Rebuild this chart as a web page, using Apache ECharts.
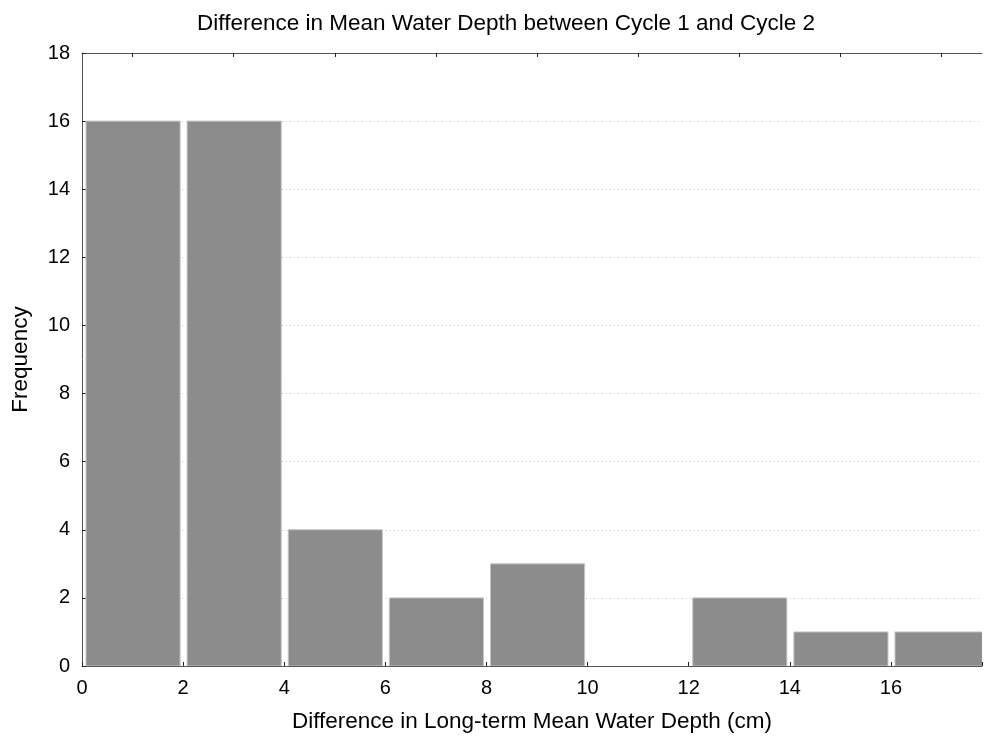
<!DOCTYPE html>
<html>
<head>
<meta charset="utf-8">
<script src="https://cdn.jsdelivr.net/npm/echarts@6/dist/echarts.min.js"></script>
<style>
  html, body { margin: 0; padding: 0; background: #fff; }
  #chart { width: 985px; height: 741px; }
</style>
</head>
<body>
<div id="chart"></div>
<script>
// Histogram bins (cm) and their counts
const binStarts = [0, 2, 4, 6, 8, 10, 12, 14, 16];
const binEnds   = [2, 4, 6, 8, 10, 12, 14, 16, 18];
const counts    = [16, 16, 4, 2, 3, 0, 2, 1, 1];
const yTicks    = [0, 2, 4, 6, 8, 10, 12, 14, 16, 18];
const binCenters = [1, 3, 5, 7, 9, 11, 13, 15, 17];

const data = binStarts.map((s, i) => [s, binEnds[i], counts[i]]);

const font = 'Liberation Sans, Arial, sans-serif';
const chart = echarts.init(document.getElementById('chart'), null, { renderer: 'canvas' });

chart.setOption({
  animation: false,
  title: {
    text: 'Difference in Mean Water Depth between Cycle 1 and Cycle 2',
    left: 501, top: 7, textAlign: 'center',
    textStyle: { fontFamily: font, fontSize: 22.5, fontWeight: 'normal', color: '#000' }
  },
  grid: { left: 82, top: 53, right: 0, bottom: 75, containLabel: false },
  xAxis: [{
    type: 'value', min: 0, max: 17.8, interval: 2,
    name: 'Difference in Long-term Mean Water Depth (cm)',
    nameLocation: 'middle', nameGap: 44,
    nameTextStyle: { fontFamily: font, fontSize: 22.5, color: '#000' },
    axisLine: { show: true, lineStyle: { color: '#555', width: 1 } },
    axisTick: { show: true, inside: true, length: 4, lineStyle: { color: '#222' } },
    axisLabel: { fontFamily: font, fontSize: 20, color: '#000', margin: 12,
      formatter: v => (v > 17 ? '' : v) },
    splitLine: { show: false }
  }, {
    type: 'value', position: 'top', min: 0, max: 17.8,
    axisLine: { show: true, lineStyle: { color: '#555', width: 1 } },
    axisTick: { show: true, inside: true, length: 4, customValues: binCenters, lineStyle: { color: '#222' } },
    axisLabel: { show: false },
    splitLine: { show: false }
  }],
  yAxis: {
    type: 'value', min: 0, max: 18, interval: 2,
    name: 'Frequency', nameLocation: 'middle', nameGap: 50,
    nameTextStyle: { fontFamily: font, fontSize: 22.5, color: '#000' },
    axisLine: { show: true, lineStyle: { color: '#555', width: 1 } },
    axisTick: { show: true, inside: true, length: 4, lineStyle: { color: '#222' } },
    axisLabel: { fontFamily: font, fontSize: 20, color: '#000', margin: 12,
      customValues: yTicks },
    splitLine: { show: true, lineStyle: { color: '#c8c8c8', type: [1, 3], width: 1 } }
  },
  series: [{
    type: 'custom',
    data: data,
    encode: { x: [0, 1], y: 2 },
    clip: true,
    renderItem: function (params, api) {
      const p0 = api.coord([api.value(0), 0]);
      const p1 = api.coord([api.value(1), api.value(2)]);
      const x0 = p0[0] + 4, x1 = p1[0] - 3;
      const h = p0[1] - p1[1];
      if (h <= 0) return null;
      return {
        type: 'rect',
        shape: { x: x0, y: p1[1], width: x1 - x0, height: h },
        style: { fill: '#8c8c8c', stroke: '#c4c4c4', lineWidth: 1 }
      };
    },
    z: 2
  }]
});
</script>
</body>
</html>
